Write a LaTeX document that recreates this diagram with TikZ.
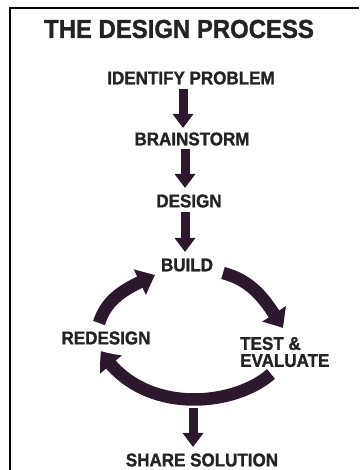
\documentclass[tikz,border=0pt]{standalone}
\usepackage{fontspec}
\setmainfont{Liberation Sans}[FakeStretch=0.92,BoldFeatures={FakeBold=1.2}]
\usetikzlibrary{arrows.meta,bending}
\definecolor{arrowc}{RGB}{45,25,45}
\definecolor{textc}{RGB}{35,35,35}
\begin{document}
\begin{tikzpicture}[x=1pt,y=1pt,
  lbl/.style={font=\bfseries\fontsize{18.5}{17}\selectfont, text=textc, inner sep=0pt},
  vstem/.style={draw=arrowc, line width=9pt, -{Triangle[width=20pt,length=14pt]}},
  arcarrow/.style={draw=arrowc, line width=12.5pt, -{Triangle[width=27pt,length=17pt,bend]}}]
\useasboundingbox (0,0) rectangle (359,470);
\draw[line width=1.8pt] (10,0) -- (10,462) -- (359,462);

\node[lbl, font=\bfseries\fontsize{26}{28}\selectfont] (title) at (179,441) {THE DESIGN PROCESS};
\node[lbl] (ident) at (191,392) {IDENTIFY PROBLEM};
\node[lbl] (brain) at (192,331) {BRAINSTORM};
\node[lbl] (design) at (189,269) {DESIGN};
\node[lbl] (build) at (187,205) {BUILD};
\node[lbl] (redesign) at (106,132) {REDESIGN};
\node[lbl, align=left, anchor=west] (test) at (240,118) {TEST \&\\EVALUATE};
\node[lbl] (share) at (202,10) {SHARE SOLUTION};

% vertical arrows
\coordinate (a1s) at (183,381);
\coordinate (a1e) at (183,342);
\coordinate (a2s) at (185,321);
\coordinate (a2e) at (185,282);
\coordinate (a3s) at (185,258);
\coordinate (a3e) at (185,218);
\coordinate (a4s) at (193,62);
\coordinate (a4e) at (193,23);
\draw[vstem] (a1s) -- (a1e);
\draw[vstem] (a2s) -- (a2e);
\draw[vstem] (a3s) -- (a3e);
\draw[vstem] (a4s) -- (a4e);

% cycle arrows
\coordinate (ls) at (99,147);
\coordinate (le) at (155,195);
\coordinate (rs) at (223,197);
\coordinate (re) at (283,142);
\coordinate (bs) at (271,96);
\coordinate (be) at (101,119);
\draw[arcarrow] (ls) to[out=72,in=205] (le);
\draw[arcarrow] (rs) to[out=-15,in=122] (re);
\draw[arcarrow] (bs) .. controls (232,62) and (140,55) .. (be);
\end{tikzpicture}
\end{document}
